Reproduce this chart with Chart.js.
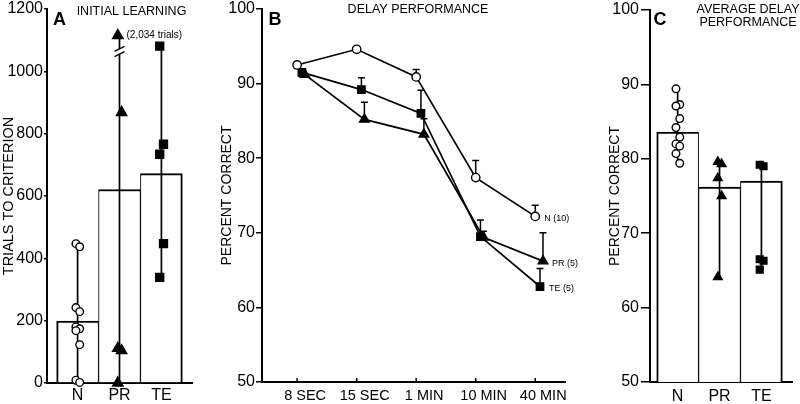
<!doctype html>
<html lang="en">
<head>
<meta charset="UTF-8" />
<title>Initial learning and delay performance</title>
<script src="https://cdn.jsdelivr.net/npm/chart.js@4.4.1/dist/chart.umd.min.js"></script>
<style>
  body { margin: 0; background: #fff; }
  canvas { position: absolute; top: 0; }
</style>
</head>
<body>
<canvas id="chartA" width="200" height="404" style="left:0"></canvas>
<canvas id="chartB" width="395" height="404" style="left:205px"></canvas>
<canvas id="chartC" width="200" height="404" style="left:600px"></canvas>
<script>
// ---- data ----
const groups = ['N', 'PR', 'TE'];
const groupSizes = [10, 5, 5];

// A: initial learning (trials to criterion)
const trialsTicks = [0, 200, 400, 600, 800, 1000, 1200];
const trialsMean = [199, 621, 672];
const trialsN = [447, 437, 242, 229, 180, 174, 168, 123, 9, 2];
const trialsPR = [2034, 868, 111, 104, 0];
const trialsTE = [1081, 766, 734, 447, 339];

// B: delay performance (percent correct)
const delays = ['8 SEC', '15 SEC', '1 MIN', '10 MIN', '40 MIN'];
const delayN = [92.5, 94.6, 90.9, 77.4, 72.2];
const delayPR = [91.2, 85.2, 83.2, 69.4, 66.2];
const delayTE = [91.5, 89.2, 86.0, 69.5, 62.8];
const semN = [0, 0, 1.0, 2.3, 1.5];
const semPR = [0, 2.3, 2.1, 0.8, 3.8];
const semTE = [0, 1.6, 3.1, 2.2, 2.4];

// C: average delay performance
const percentTicks = [50, 60, 70, 80, 90, 100];
const avgMean = [83.6, 76.2, 77.0];
const avgN = [89.4, 87.3, 87.1, 85.4, 84.2, 82.9, 82.0, 81.7, 80.7, 79.4];
const avgPR = [79.6, 79.3, 77.4, 75.0, 64.1];
const avgTE = [79.2, 79.0, 66.5, 66.3, 65.1];

// off-scale PR animal in panel A is drawn at the top with an axis break
const trialsCap = 1115;
const breakLow = 1055, breakHigh = 1072;

const FONT = '"Liberation Sans", Arial, Helvetica, sans-serif';
Chart.defaults.font.family = FONT;
Chart.defaults.color = '#000';
Chart.defaults.animation = false;
Chart.defaults.events = [];
Chart.defaults.plugins.legend.display = false;
Chart.defaults.plugins.tooltip.enabled = false;

function yAxis(min, max, tickVals, title, width, tickLen, titlePad, tickPad, titleSize) {
    return {
        type: 'linear', min: min, max: max,
        afterBuildTicks: s => { s.ticks = tickVals.map(v => ({ value: v })); },
        afterFit: s => { s.width = width; },
        border: { color: '#000', width: 2 },
        grid: { drawOnChartArea: false, drawTicks: true, tickLength: tickLen, color: '#000', lineWidth: 1.5 },
        ticks: { callback: v => String(v), font: { size: 16, lineHeight: 1 }, padding: tickPad, color: '#000' },
        title: { display: true, text: title, color: '#000', font: { size: titleSize }, padding: { top: titlePad, bottom: 0 } }
    };
}

function xAxis(labels, min, max, height, size, pad, labelOffset) {
    return {
        type: 'linear', min: min, max: max, offset: false,
        afterBuildTicks: s => { s.ticks = labels.map((l, i) => ({ value: i })); },
        afterFit: s => { s.height = height; },
        border: { color: '#000', width: 2 },
        grid: { display: false, drawTicks: false },
        ticks: {
            callback: v => labels[v], font: { size: size, lineHeight: 1 }, padding: pad,
            labelOffset: labelOffset, autoSkip: false, maxRotation: 0, color: '#000'
        }
    };
}

function text(ctx, str, x, y, font, align) {
    ctx.save();
    ctx.fillStyle = '#000';
    ctx.font = font;
    ctx.textAlign = align || 'center';
    ctx.textBaseline = 'middle';
    ctx.fillText(str, x, y);
    ctx.restore();
}

function panelHead(letter, lx, ly, lines, tx, ty) {
    return {
        id: 'head' + letter,
        afterDraw(chart) {
            text(chart.ctx, letter, lx, ly, 'bold 18px ' + FONT);
            lines.forEach((t, i) => text(chart.ctx, t, tx, ty + i * 13.5, '12.5px ' + FONT));
        }
    };
}

const markStyles = [
    { style: 'circle', fill: '#fff' },
    { style: 'triangle', fill: '#000' },
    { style: 'rect', fill: '#000' }
];

function groupDatasets(mean, sets, sizes, cap) {
    const ds = [{
        type: 'bar',
        data: mean.map((v, i) => ({ x: i, y: v })),
        backgroundColor: '#fff',
        borderColor: '#000',
        borderWidth: c => ({ top: 2, bottom: 0, left: c.dataIndex === 0 ? 2 : 1, right: c.dataIndex === mean.length - 1 ? 2 : 1 }),
        barPercentage: 1, categoryPercentage: 1,
        order: 3
    }];
    sets.forEach((vals, g) => {
        const shown = vals.map(v => Math.min(v, cap));
        ds.push({
            type: 'line',
            data: [{ x: g, y: Math.min(...shown) }, { x: g, y: Math.max(...shown) }],
            borderColor: '#000', borderWidth: 1.7, pointRadius: 0, order: 2, clip: false
        });
        ds.push({
            type: 'scatter',
            data: shown.map((v, k) => ({ x: g + (k % 2 ? 0.05 : -0.04), y: v })),
            pointStyle: markStyles[g].style, pointRadius: sizes[g],
            pointBackgroundColor: markStyles[g].fill, pointBorderColor: '#000', pointBorderWidth: 1.4,
            order: 1, clip: false
        });
    });
    return ds;
}

// ---- panel A ----
new Chart(document.getElementById('chartA'), {
    type: 'bar',
    data: { datasets: groupDatasets(trialsMean, [trialsN, trialsPR, trialsTE], [3.8, 6, 5.6], trialsCap) },
    options: {
        responsive: false,
        layout: { padding: { top: 7, right: 8, left: 0, bottom: 0 } },
        scales: {
            x: xAxis(groups, -0.73, 2.73, 21, 16, 5, 0),
            y: yAxis(0, 1200, trialsTicks, 'TRIALS TO CRITERION', 47, 3, 0, 1, 14.5)
        }
    },
    plugins: [
        panelHead('A', 59.5, 20, ['INITIAL LEARNING'], 131.5, 11.5),
        {
            id: 'axisBreak',
            afterDatasetsDraw(chart) {
                const ctx = chart.ctx, xs = chart.scales.x, ys = chart.scales.y;
                const x = xs.getPixelForValue(1);
                const yLo = ys.getPixelForValue(breakLow), yHi = ys.getPixelForValue(breakHigh);
                ctx.save();
                ctx.fillStyle = '#fff';
                ctx.fillRect(x - 3, yHi, 6, yLo - yHi);
                ctx.strokeStyle = '#000';
                ctx.lineWidth = 1.5;
                [yLo, yHi].forEach(y => {
                    ctx.beginPath();
                    ctx.moveTo(x - 5, y + 2.5);
                    ctx.lineTo(x + 5, y - 2.5);
                    ctx.stroke();
                });
                ctx.restore();
                const top = Math.max(...trialsPR);
                text(ctx, '(' + top.toLocaleString('en-US') + ' trials)', x + 7, ys.getPixelForValue(trialsCap), '10px ' + FONT, 'left');
            }
        }
    ]
});

// ---- panel B ----
const delaySeries = [
    { vals: delayN, sem: semN, dx: 0, r: 4.2, order: 1 },
    { vals: delayPR, sem: semPR, dx: 0.13, r: 5.5, order: 3 },
    { vals: delayTE, sem: semTE, dx: 0.08, r: 5.2, order: 2 }
];

new Chart(document.getElementById('chartB'), {
    type: 'line',
    data: {
        datasets: delaySeries.map((s, g) => ({
            data: s.vals.map((v, i) => ({ x: i + s.dx, y: v })),
            borderColor: '#000', borderWidth: 1.7, tension: 0,
            pointStyle: markStyles[g].style, pointRadius: s.r,
            pointBackgroundColor: markStyles[g].fill, pointBorderColor: '#000', pointBorderWidth: 1.4,
            order: s.order, clip: false
        }))
    },
    options: {
        responsive: false,
        layout: { padding: { top: 7, right: 35, left: 0, bottom: 0 } },
        scales: {
            x: xAxis(delays, -0.59, 4.5, 22, 14.5, 7, 8),
            y: yAxis(50, 100, percentTicks, 'PERCENT CORRECT', 57, 6, 14, 1, 14)
        }
    },
    plugins: [
        panelHead('B', 70, 20.5, ['DELAY PERFORMANCE'], 213, 9.5),
        {
            id: 'delayMarks',
            beforeDatasetsDraw(chart) {
                const ctx = chart.ctx, xs = chart.scales.x, ys = chart.scales.y;
                ctx.save();
                ctx.strokeStyle = '#000';
                ctx.lineWidth = 1.5;
                delaySeries.forEach(s => {
                    s.vals.forEach((v, i) => {
                        if (!s.sem[i]) return;
                        const x = xs.getPixelForValue(i + s.dx);
                        const y0 = ys.getPixelForValue(v), y1 = ys.getPixelForValue(v + s.sem[i]);
                        ctx.beginPath();
                        ctx.moveTo(x, y0); ctx.lineTo(x, y1);
                        ctx.moveTo(x - 3.5, y1); ctx.lineTo(x + 3.5, y1);
                        ctx.stroke();
                    });
                });
                ctx.restore();
            },
            afterDatasetsDraw(chart) {
                const xs = chart.scales.x, ys = chart.scales.y;
                delaySeries.forEach((s, g) => {
                    const last = s.vals.length - 1;
                    text(chart.ctx, groups[g] + ' (' + groupSizes[g] + ')',
                        xs.getPixelForValue(last + s.dx) + 9, ys.getPixelForValue(s.vals[last]) + 2, '9px ' + FONT, 'left');
                });
            },
            afterDraw(chart) {
                const ctx = chart.ctx, xs = chart.scales.x, b = chart.chartArea.bottom;
                ctx.save();
                ctx.strokeStyle = '#000';
                ctx.lineWidth = 1.5;
                delays.forEach((d, i) => {
                    const x = xs.getPixelForValue(i);
                    ctx.beginPath();
                    ctx.moveTo(x, b); ctx.lineTo(x, b - 4);
                    ctx.stroke();
                });
                ctx.restore();
            }
        }
    ]
});

// ---- panel C ----
new Chart(document.getElementById('chartC'), {
    type: 'bar',
    data: { datasets: groupDatasets(avgMean, [avgN, avgPR, avgTE], [3.8, 5, 4.8], Infinity) },
    options: {
        responsive: false,
        layout: { padding: { top: 7, right: 8, left: 0, bottom: 0 } },
        scales: {
            x: xAxis(groups, -0.66, 2.73, 22, 16, 6.5, 0),
            y: yAxis(50, 100, percentTicks, 'PERCENT CORRECT', 50, 9, 6.6, 2, 14)
        }
    },
    plugins: [panelHead('C', 60, 20, ['AVERAGE DELAY', 'PERFORMANCE'], 148, 9.5)]
});
</script>
</body>
</html>
